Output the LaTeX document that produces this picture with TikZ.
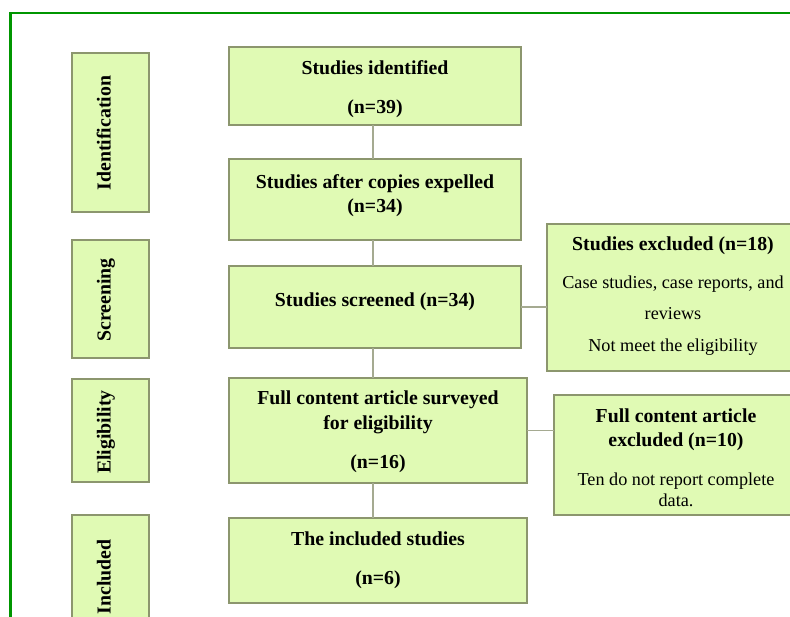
\documentclass[tikz,border=0pt]{standalone}
\usepackage{fontspec}
\setmainfont{Liberation Serif}
\definecolor{boxfill}{RGB}{224,250,180}
\definecolor{boxline}{RGB}{140,150,110}
\definecolor{connline}{RGB}{165,170,145}
\definecolor{framegreen}{RGB}{0,150,0}
\tikzset{
  box/.style={draw=boxline, fill=boxfill, line width=1.5pt, inner sep=0pt, outer sep=0pt},
  btext/.style={inner sep=0pt, anchor=base, font=\fontsize{19.8}{23}\selectfont\bfseries},
  rtext/.style={inner sep=0pt, anchor=base, font=\fontsize{18.2}{21}\selectfont},
  ltext/.style={inner sep=0pt, anchor=base, rotate=90, font=\fontsize{19.8}{23}\selectfont\bfseries},
  conn/.style={draw=connline, line width=1.3pt},
}
\begin{document}
\begin{tikzpicture}[x=1pt,y=-1pt]
\useasboundingbox (0,0) rectangle (790,616);
\clip (0,0) rectangle (790,616);
\fill[white] (0,0) rectangle (790,616);
\draw[framegreen, line width=2.2pt] (10.5,640) -- (10.5,12.8) -- (820,12.8);

% stage labels
\node[box, minimum width=77pt, minimum height=159pt] (L1) at (110.5,132.5) {};
\node[box, minimum width=77pt, minimum height=118pt] (L2) at (110.5,299) {};
\node[box, minimum width=77pt, minimum height=103pt] (L3) at (110.5,430.5) {};
\node[box, minimum width=77pt, minimum height=115pt] (L4) at (110.5,572.5) {};
\node[ltext] (L1t) at (110.5,133) {Identification};
\node[ltext] (L2t) at (110.5,300) {Screening};
\node[ltext] (L3t) at (110.5,432) {Eligibility};
\node[ltext] (L4t) at (110.5,577) {Included};

% main boxes
\node[box, minimum width=292pt, minimum height=78pt] (b1) at (375,86) {};
\node[box, minimum width=292pt, minimum height=81pt] (b2) at (375,199.5) {};
\node[box, minimum width=292pt, minimum height=82pt] (b3) at (375,307) {};
\node[box, minimum width=298pt, minimum height=105pt] (b4) at (378,430.5) {};
\node[box, minimum width=298pt, minimum height=85pt] (b5) at (378,560.5) {};
\node[box, minimum width=252pt, minimum height=147pt] (r1) at (673,297.5) {};
\node[box, minimum width=244pt, minimum height=120pt] (r2) at (676,455) {};

% connectors
\coordinate (cx) at (373,0);
\draw[conn] (b1.south -| cx) -- (b2.north -| cx);
\draw[conn] (b2.south -| cx) -- (b3.north -| cx);
\draw[conn] (b3.south -| cx) -- (b4.north -| cx);
\draw[conn] (b4.south -| cx) -- (b5.north -| cx);
\draw[conn] (b3.east) -- (b3.east -| r1.west);
\draw[conn] (b4.east) -- (b4.east -| r2.west);

% texts
\node[btext] (b1a) at (375,74.7) {Studies identified};
\node[btext] (b1b) at (375,113.7) {(n=39)};
\node[btext] (b2a) at (375,188.7) {Studies after copies expelled};
\node[btext] (b2b) at (375,212.7) {(n=34)};
\node[btext] (b3a) at (375,306.7) {Studies screened (n=34)};
\node[btext] (b4a) at (378,404.7) {Full content article surveyed};
\node[btext] (b4b) at (378,429) {for eligibility};
\node[btext] (b4c) at (378,468.7) {(n=16)};
\node[btext] (b5a) at (378,545.7) {The included studies};
\node[btext] (b5b) at (378,584.7) {(n=6)};

\node[btext] (r1a) at (673,250.7) {Studies excluded (n=18)};
\node[rtext] (r1b) at (673,288.2) {Case studies, case reports, and};
\node[rtext] (r1c) at (673,319.2) {reviews};
\node[rtext] (r1d) at (673,351.2) {Not meet the eligibility};
\node[btext] (r2a) at (676,422.7) {Full content article};
\node[btext] (r2b) at (676,446.7) {excluded (n=10)};
\node[rtext] (r2c) at (676,485.2) {Ten do not report complete};
\node[rtext] (r2d) at (676,506.2) {data.};
\end{tikzpicture}
\end{document}
